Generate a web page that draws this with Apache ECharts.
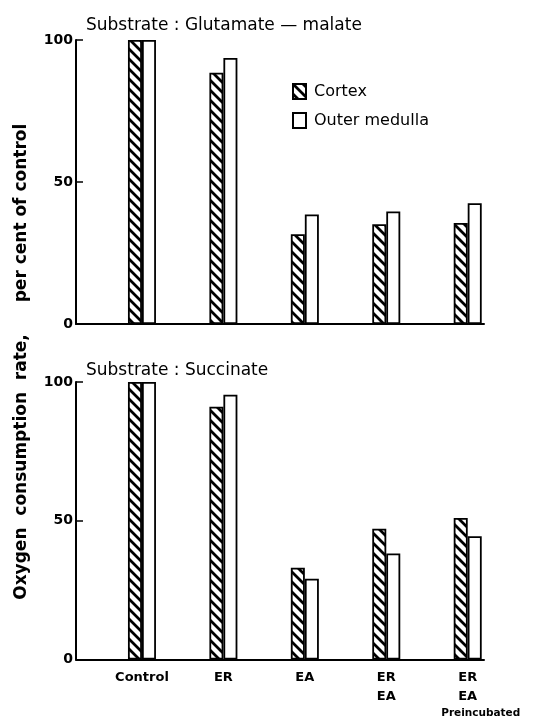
<!DOCTYPE html>
<html>
<head>
<meta charset="utf-8">
<script src="https://cdn.jsdelivr.net/npm/echarts@6/dist/echarts.min.js"></script>
<style>
html,body{margin:0;padding:0;background:#fff;}
#chart{width:539px;height:719px;}
</style>
</head>
<body>
<div id="chart"></div>
<script>
// ---- data ----
const categories = ['Control', 'ER', 'EA', 'ER\nEA', 'ER\nEA\nPreincubated'];
const categoryPositions = [1, 2, 3, 4, 5];
const glutamateCortex = [100, 88.5, 31.6, 35.1, 35.6];
const glutamateOuterMedulla = [100, 93.7, 38.6, 39.6, 42.5];
const succinateCortex = [100, 91.1, 33.1, 47.1, 51.0];
const succinateOuterMedulla = [100, 95.4, 29.1, 38.2, 44.4];
const yTicks = [0, 50, 100];
const seriesNames = ['Cortex', 'Outer medulla'];
const panelTitles = ['Substrate : Glutamate \u2014 malate', 'Substrate : Succinate'];
const yAxisTitleParts = ['Oxygen  consumption  rate,', 'per cent of control'];

// ---- styles ----
const FONT = 'DejaVu Sans';
function hatch() {
  const c = document.createElement('canvas');
  c.width = 10; c.height = 10;
  const g = c.getContext('2d');
  g.fillStyle = '#fff'; g.fillRect(0, 0, 10, 10);
  g.strokeStyle = '#000'; g.lineWidth = 2.8; g.lineCap = 'square';
  g.beginPath();
  for (let k = -10; k <= 10; k += 10) { g.moveTo(k - 2, -2); g.lineTo(k + 12, 12); }
  g.stroke();
  return c;
}
const hatchPattern = { image: hatch(), repeat: 'repeat' };

function pairs(vals) { return vals.map((v, i) => [categoryPositions[i], v]); }

const chart = echarts.init(document.getElementById('chart'), null, { renderer: 'canvas' });

const xMin = 0.19, xMax = 5.2;
function xAxis(grid, showLabels) {
  return {
    type: 'value', gridIndex: grid, min: xMin, max: xMax,
    axisLine: { show: true, onZero: false, lineStyle: { color: '#000', width: 2 } },
    axisTick: { show: false },
    splitLine: { show: false },
    axisLabel: showLabels ? {
      show: true,
      customValues: categoryPositions,
      margin: 9,
      formatter: function (v) {
        const idx = categoryPositions.indexOf(Math.round(v));
        if (idx < 0) return '';
        return categories[idx].split('\n').map(l => l === 'Preincubated' ? '{b|' + l + '}' : '{a|' + l + '}').join('\n');
      },
      rich: {
        a: { fontFamily: FONT, fontSize: 13, fontWeight: 'bold', color: '#000', lineHeight: 19 },
        b: { fontFamily: FONT, fontSize: 10.5, fontWeight: 'bold', color: '#000', lineHeight: 14, padding: [0, 0, 0, 26] }
      }
    } : { show: false }
  };
}
function yAxis(grid) {
  return {
    type: 'value', gridIndex: grid, min: 0, max: 100, interval: 50,
    axisLine: { show: true, lineStyle: { color: '#000', width: 2 } },
    axisTick: { show: true, inside: true, length: 7, lineStyle: { color: '#000', width: 1.5 } },
    splitLine: { show: false },
    axisLabel: {
      margin: 3, color: '#000', fontFamily: FONT, fontSize: 14, fontWeight: 'bold',
      customValues: yTicks
    }
  };
}
function barSeries(name, vals, idx, hatched) {
  return {
    name: name, type: 'bar', xAxisIndex: idx, yAxisIndex: idx,
    data: pairs(vals), barWidth: 14, barGap: '0%',
    itemStyle: { color: hatched ? hatchPattern : '#fff', borderColor: '#000', borderWidth: 1.8 },
    emphasis: { disabled: true },
    animation: false
  };
}

chart.setOption({
  animation: false,
  grid: [
    { left: 76, right: 55, top: 40, height: 284 },
    { left: 76, right: 55, top: 382, height: 280 }
  ],
  xAxis: [xAxis(0, false), xAxis(1, true)],
  yAxis: [yAxis(0), yAxis(1)],
  legend: {
    orient: 'vertical', left: 287, top: 78,
    itemWidth: 13, itemHeight: 15, itemGap: 12,
    selectedMode: false,
    data: seriesNames.map(n => ({ name: n, icon: 'rect' })),
    textStyle: { fontFamily: FONT, fontSize: 16, color: '#000', padding: [0, 0, 0, 3] }
  },
  title: [
    { text: panelTitles[0], left: 81, top: 12, textStyle: { fontFamily: FONT, fontSize: 17, fontWeight: 'normal', color: '#000' } },
    { text: panelTitles[1], left: 81, top: 357, textStyle: { fontFamily: FONT, fontSize: 17, fontWeight: 'normal', color: '#000' } }
  ],
  graphic: [
    { type: 'text', x: 22, y: 467, rotation: Math.PI / 2,
      style: { text: yAxisTitleParts[0], fontFamily: FONT, fontSize: 17, fontWeight: 'bold', fill: '#000', align: 'center', verticalAlign: 'middle' } },
    { type: 'text', x: 22, y: 213, rotation: Math.PI / 2,
      style: { text: yAxisTitleParts[1], fontFamily: FONT, fontSize: 17, fontWeight: 'bold', fill: '#000', align: 'center', verticalAlign: 'middle' } }
  ],
  series: [
    barSeries(seriesNames[0], glutamateCortex, 0, true),
    barSeries(seriesNames[1], glutamateOuterMedulla, 0, false),
    barSeries(seriesNames[0], succinateCortex, 1, true),
    barSeries(seriesNames[1], succinateOuterMedulla, 1, false)
  ]
});
</script>
</body>
</html>
